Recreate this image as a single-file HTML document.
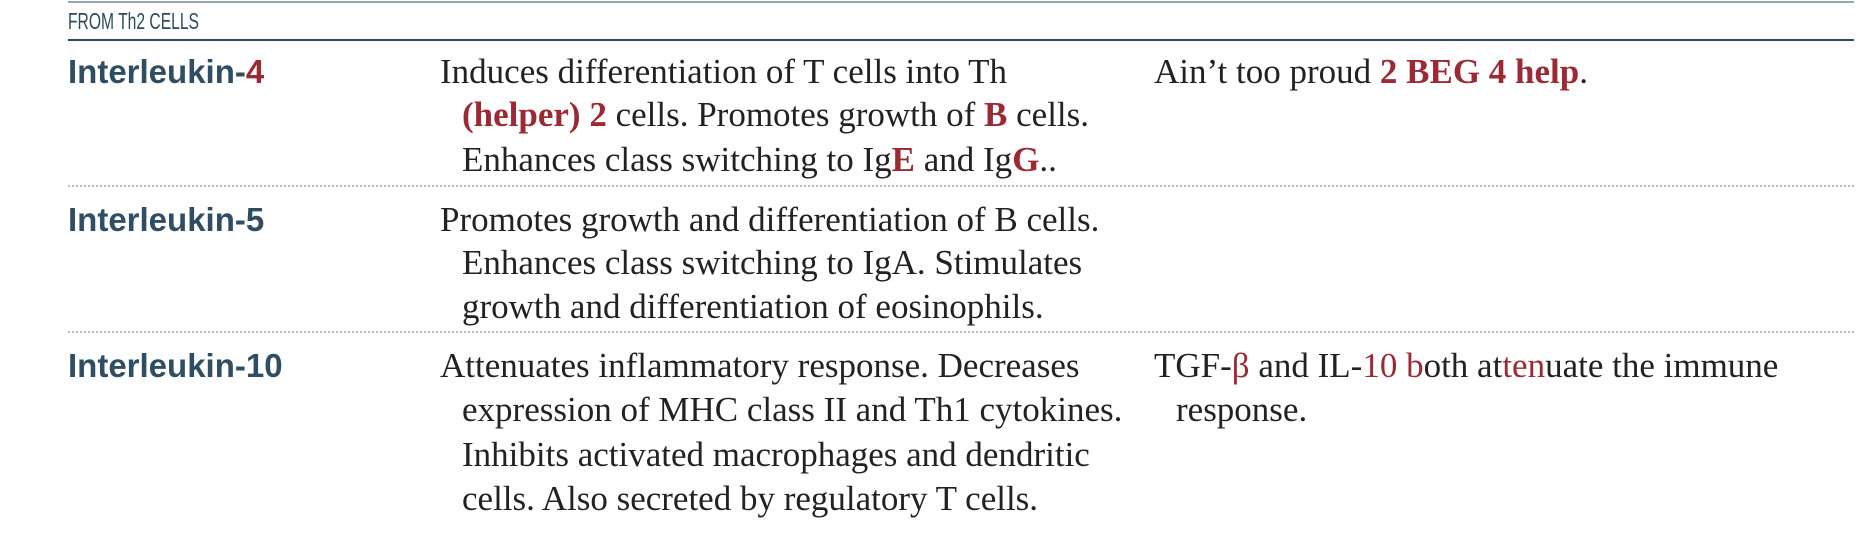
<!DOCTYPE html>
<html><head><meta charset="utf-8"><style>
body{margin:0;width:1872px;height:550px;background:#fff;position:relative;overflow:hidden}
.l{position:absolute;white-space:nowrap}
.hd{font-family:"Liberation Sans",sans-serif;font-size:23px;color:#2c4a5e;left:68px;top:8px;transform:scaleX(0.68);transform-origin:left top}
.nm{font-family:"Liberation Sans",sans-serif;font-weight:bold;font-size:33px;color:#2f4d63;line-height:44px;left:68px}
.tx{font-family:"Liberation Serif",serif;font-size:35px;color:#222;line-height:44px}
.r{color:#9b2a35}.b{font-weight:bold}
.c2{left:440px}.c2i{left:462px}.c3{left:1154px}.c3i{left:1176px}
.dot{position:absolute;left:68px;width:1786px;border-top:2px dotted #bbb;height:0}
</style></head><body>
<div style="position:absolute;left:68px;top:1px;width:1786px;height:2px;background:#9aa8b2"></div>
<div class="l hd">FROM Th2 CELLS</div>
<div style="position:absolute;left:68px;top:39px;width:1786px;height:2px;background:#2c4a5e"></div>

<div class="l nm" style="top:50px">Interleukin-<span class="r">4</span></div>
<div class="l tx c2" style="top:50px">Induces differentiation of T cells into Th</div>
<div class="l tx c2i" style="top:93px"><span class="r b">(helper) 2</span> cells. Promotes growth of <span class="r b">B</span> cells.</div>
<div class="l tx c2i" style="top:138px">Enhances class switching to Ig<span class="r b">E</span> and Ig<span class="r b">G</span>..</div>
<div class="l tx c3" style="top:50px">Ain’t too proud <span class="r b">2 BEG 4 help</span>.</div>
<div class="dot" style="top:185px"></div>

<div class="l nm" style="top:198px">Interleukin-5</div>
<div class="l tx c2" style="top:198px">Promotes growth and differentiation of B cells.</div>
<div class="l tx c2i" style="top:241px">Enhances class switching to IgA. Stimulates</div>
<div class="l tx c2i" style="top:285px">growth and differentiation of eosinophils.</div>
<div class="dot" style="top:331px"></div>

<div class="l nm" style="top:344px">Interleukin-10</div>
<div class="l tx c2" style="top:344px">Attenuates inflammatory response. Decreases</div>
<div class="l tx c2i" style="top:388px">expression of MHC class II and Th1 cytokines.</div>
<div class="l tx c2i" style="top:433px">Inhibits activated macrophages and dendritic</div>
<div class="l tx c2i" style="top:477px">cells. Also secreted by regulatory T cells.</div>
<div class="l tx c3" style="top:344px">TGF-<span class="r">β</span> and IL-<span class="r">10 b</span>oth at<span class="r">ten</span>uate the immune</div>
<div class="l tx c3i" style="top:388px">response.</div>
</body></html>
